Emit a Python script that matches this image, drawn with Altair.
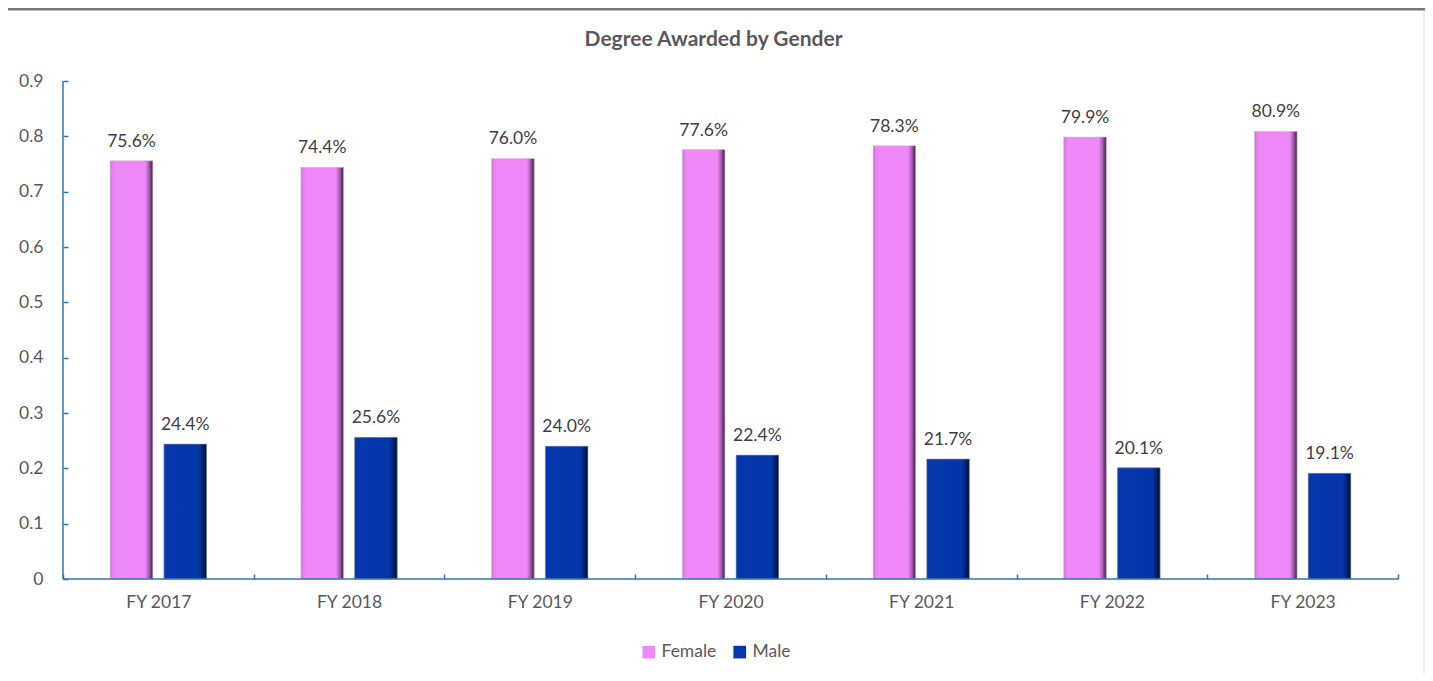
import altair as alt
import pandas as pd

years = ["FY 2017", "FY 2018", "FY 2019", "FY 2020", "FY 2021", "FY 2022", "FY 2023"]
female = [0.756, 0.744, 0.760, 0.776, 0.783, 0.799, 0.809]
male = [0.244, 0.256, 0.240, 0.224, 0.217, 0.201, 0.191]
genders = ["Female", "Male"]
colors = ["#EE88F8", "#0535A8"]
y_ticks = [0, 0.1, 0.2, 0.3, 0.4, 0.5, 0.6, 0.7, 0.8, 0.9]

rows = []
for yr, f, m in zip(years, female, male):
    rows.append({"year": yr, "gender": "Female", "value": f})
    rows.append({"year": yr, "gender": "Male", "value": m})
df = pd.DataFrame(rows)

W, H = 1335, 498
FONT = "Lato"
FS = 17.5
TXT = "#595959"
AXC = "#2E75B6"

x = alt.X(
    "year:N", sort=years,
    scale=alt.Scale(paddingInner=0, paddingOuter=0),
    axis=alt.Axis(title=None, labelAngle=0, tickBand="extent", domain=False,
                  tickSize=5, offset=-5, tickColor=AXC, tickWidth=1.5,
                  labelFont=FONT, labelFontSize=FS, labelColor=TXT, labelPadding=14),
)
xo = alt.XOffset("gender:N", sort=genders,
                 scale=alt.Scale(domain=genders, paddingInner=0.206, paddingOuter=0.878))
y = alt.Y(
    "value:Q",
    scale=alt.Scale(domain=[0, 0.9], nice=False),
    axis=alt.Axis(title=None, values=y_ticks, format=".1~f", grid=False, domain=False,
                  tickSize=5, offset=-5, tickColor=AXC, tickWidth=1.5,
                  labelFont=FONT, labelFontSize=FS, labelColor=TXT, labelPadding=20),
)

base = alt.Chart(df)

bars = base.mark_bar().encode(
    x=x, xOffset=xo, y=y,
    color=alt.Color("gender:N", sort=genders,
                    scale=alt.Scale(domain=genders, range=colors),
                    legend=alt.Legend(title=None, orient="none", direction="horizontal",
                                      legendX=577, legendY=562, symbolType="square",
                                      symbolSize=160, symbolStrokeWidth=0,
                                      labelFont=FONT, labelFontSize=FS, labelColor=TXT,
                                      columnPadding=14, labelOffset=4)),
)

def grad(stops):
    return alt.LinearGradient(
        gradient="linear", x1=0, x2=1, y1=0, y2=0,
        stops=[alt.GradientStop(offset=o, color=c) for o, c in stops],
    )

fgrad = grad([(0, "#C86BD2"), (0.06, "#E884F2"), (0.12, "#EE88F8"),
              (0.82, "#EE88F8"), (0.9, "#B062BA"), (1, "#3E1B44")])
mgrad = grad([(0, "#0A3AB0"), (0.06, "#0637AE"), (0.82, "#0535A8"),
              (0.9, "#032576"), (1, "#000C30")])

fem = base.transform_filter(alt.datum.gender == "Female").mark_bar(
    fill=fgrad, stroke="#D9D9D9", strokeWidth=0.6).encode(x=x, xOffset=xo, y=y)
mal = base.transform_filter(alt.datum.gender == "Male").mark_bar(
    fill=mgrad, stroke="#B0B0B0", strokeWidth=0.6).encode(x=x, xOffset=xo, y=y)

labels = base.mark_text(baseline="alphabetic", dy=-14, font=FONT, fontSize=FS,
                        color="#404040").encode(
    x=x, xOffset=xo, y=y,
    text=alt.Text("value:Q", format=".1%"),
)

one = pd.DataFrame({"a": [0]})
yline = alt.Chart(one).mark_rule(color=AXC, strokeWidth=1.5).encode(
    x=alt.value(0), y=alt.datum(0), y2=alt.datum(0.9))
xline = alt.Chart(one).mark_rule(color=AXC, strokeWidth=1.5).encode(
    y=alt.datum(0), x=alt.value(0), x2=alt.value(W))

# frame decorations
topline = alt.Chart(one).mark_rule(color="#767676", strokeWidth=3).encode(
    x=alt.value(-55), x2=alt.value(1362), y=alt.value(-72))
rightline = alt.Chart(one).mark_rule(color="#D9D9D9", strokeWidth=1).encode(
    x=alt.value(1361), y=alt.value(-70), y2=alt.value(600))

chart = alt.layer(bars, fem, mal, labels, yline, xline, topline, rightline).properties(
    width=W, height=H,
    title=alt.TitleParams("Degree Awarded by Gender", font=FONT, fontSize=21, fontWeight="bold",
                          color=TXT, anchor="middle", baseline="alphabetic", offset=-59, dx=-17),
    autosize=alt.AutoSizeParams(type="none"),
    padding={"left": 55, "top": 73, "right": 27, "bottom": 94},
    background="white",
).configure_view(stroke=None)

chart.save("out.html", embed_options={"renderer": "svg", "actions": False})
